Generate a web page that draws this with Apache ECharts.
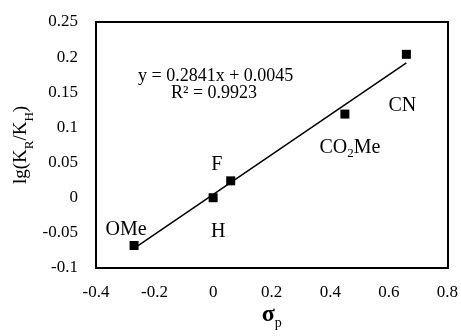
<!DOCTYPE html>
<html><head><meta charset="utf-8">
<script src="https://cdn.jsdelivr.net/npm/echarts@6/dist/echarts.min.js"></script>
<style>html,body{margin:0;padding:0;background:#fff}#c{width:461px;height:336px}</style>
</head><body><div id="c"></div>
<script>
const substituents = ['OMe','H','F','CO₂Me','CN'];
const sigmaP = [-0.27, 0, 0.06, 0.45, 0.66];
const lgK = [-0.068, 0, 0.024, 0.119, 0.204];
const slope = 0.2841, intercept = 0.0045, r2 = 0.9923;
const xTicks = [-0.4,-0.2,0,0.2,0.4,0.6,0.8];
const yTicks = [-0.1,-0.05,0,0.05,0.1,0.15,0.2,0.25];

const labelPos = {
  'OMe': {position:'top', offset:[-8,4]},
  'H': {position:'bottom', offset:[5,15]},
  'F': {position:'top', offset:[-14,3]},
  'CO₂Me': {position:'bottom', offset:[5,12]},
  'CN': {position:'bottom', offset:[-4,32]}
};
const FONT = 'Liberation Serif';
const chart = echarts.init(document.getElementById('c'));
const xmin = Math.min(...sigmaP), xmax = Math.max(...sigmaP);
chart.setOption({
  animation:false,
  textStyle:{fontFamily:FONT},
  grid:{left:96,right:13,top:22,bottom:68},
  xAxis:{type:'value',min:-0.4,max:0.8,interval:0.2,
    name:'{b|σ}{s|p}',nameLocation:'middle',nameGap:32,nameMoveOverlap:false,
    nameTextStyle:{rich:{b:{fontSize:24,fontWeight:'bold',fontFamily:FONT,color:'#000'},s:{fontSize:14,fontFamily:FONT,color:'#000',padding:[16,0,0,0]}}},
    axisLine:{show:true,onZero:false,lineStyle:{color:'#000',width:2}},axisTick:{show:false},splitLine:{show:false},
    axisLabel:{color:'#000',fontSize:17,fontFamily:FONT,margin:16,formatter:v=>String(Math.round(v*10)/10)}},
  yAxis:{type:'value',min:-0.1,max:0.25,interval:0.05,
    name:'lg(K{s|R}/K{s|H})',nameLocation:'middle',nameGap:60,nameRotate:90,nameMoveOverlap:false,
    nameTextStyle:{color:'#000',fontSize:19,fontFamily:FONT,rich:{s:{fontSize:13,fontFamily:FONT,color:'#000',verticalAlign:'bottom',lineHeight:30}}},
    axisLine:{show:true,onZero:false,lineStyle:{color:'#000',width:2}},axisTick:{show:false},splitLine:{show:false},
    axisLabel:{color:'#000',fontSize:17,fontFamily:FONT,margin:18,formatter:v=>String(Math.round(v*100)/100)}},
  graphic:[
    {type:'rect',shape:{x:96,y:22,width:352,height:246},style:{fill:'none',stroke:'#000',lineWidth:2},z:10},
    {type:'text',left:138,top:67,style:{text:'y = '+slope+'x + '+intercept,font:'18px "Liberation Serif"',fill:'#000'}},
    {type:'text',left:171,top:84,style:{text:'R² = '+r2,font:'18px "Liberation Serif"',fill:'#000'}}
  ],
  series:[
    {type:'line',data:[[xmin,slope*xmin+intercept],[xmax,slope*xmax+intercept]],symbol:'none',lineStyle:{color:'#000',width:1.5},z:2},
    {type:'scatter',symbol:'rect',symbolSize:9,itemStyle:{color:'#000',opacity:1},z:3,
      data:sigmaP.map((x,i)=>({value:[x,lgK[i]],name:substituents[i],
        label:Object.assign({show:true,formatter:substituents[i].replace('₂','{s|2}'),color:'#000',fontSize:20,fontFamily:FONT,
          rich:{s:{fontSize:13,fontFamily:FONT,color:'#000',padding:[12,0,0,0]}}},labelPos[substituents[i]])}))}
  ]
});
</script></body></html>
